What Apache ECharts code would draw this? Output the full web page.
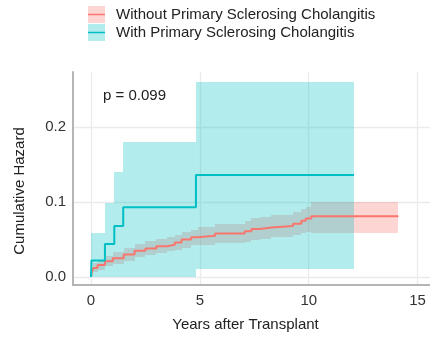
<!DOCTYPE html>
<html><head><meta charset="utf-8">
<script src="https://cdn.jsdelivr.net/npm/echarts@6/dist/echarts.min.js"></script>
<style>html,body{margin:0;padding:0;background:#fff}#c{width:430px;height:341px}</style>
</head><body><div id="c"></div>
<script>
const groupNames = ['Without Primary Sclerosing Cholangitis', 'With Primary Sclerosing Cholangitis'];
const xTicks = [0, 5, 10, 15];
const yTicks = [0, 0.1, 0.2];
const pText = 'p = 0.099';
const xTitle = 'Years after Transplant';
const yTitle = 'Cumulative Hazard';

// Without PSC (step function: value holds from time onward)
const noTime = [0, 0.02, 0.1, 0.3, 0.64, 1.0, 1.5, 2.0, 2.5, 3.0, 3.5, 3.85, 4.16, 4.6, 4.9, 5.7, 7.06, 7.37, 7.75, 8.29, 9.28, 9.66, 9.86, 10.12, 14.12];
const noHaz  = [0, 0.005, 0.012, 0.016, 0.021, 0.025, 0.030, 0.035, 0.038, 0.041, 0.043, 0.046, 0.050, 0.053, 0.055, 0.058, 0.061, 0.064, 0.066, 0.068, 0.071, 0.075, 0.078, 0.081, 0.081];
const noLo   = [0, 0.001, 0.006, 0.009, 0.014, 0.017, 0.021, 0.026, 0.029, 0.032, 0.034, 0.036, 0.039, 0.042, 0.043, 0.045, 0.047, 0.049, 0.051, 0.053, 0.056, 0.058, 0.060, 0.059, 0.059];
const noHi   = [0, 0.010, 0.018, 0.023, 0.028, 0.033, 0.039, 0.044, 0.048, 0.051, 0.053, 0.056, 0.060, 0.063, 0.066, 0.070, 0.074, 0.078, 0.080, 0.082, 0.086, 0.090, 0.093, 0.1004, 0.1004];

// With PSC
const psTime = [0, 0.02, 0.64, 1.07, 1.48, 4.82, 12.08];
const psHaz  = [0, 0.022, 0.044, 0.068, 0.093, 0.136, 0.136];
const psLo   = [0, 0, 0, 0, 0, 0.0107, 0.0107];
const psHi   = [0, 0.059, 0.099, 0.140, 0.180, 0.260, 0.260];

const RED = '#F8766D', TEAL = '#00BFC4';
function zip(xs, ys) { return xs.map((x, i) => [x, ys[i]]); }
// band segments: [x start, x end, lower, upper]
function segs(xs, lo, hi) {
  const out = [];
  for (let i = 0; i < xs.length - 1; i++) out.push([xs[i], xs[i + 1], lo[i], hi[i]]);
  return out;
}
function keyIcon(c) {
  const svg = "<svg xmlns='http://www.w3.org/2000/svg' width='17' height='17'><rect width='17' height='17' fill='" + c + "' fill-opacity='0.3'/><line x1='0' y1='8.5' x2='17' y2='8.5' stroke='" + c + "' stroke-width='1.5'/></svg>";
  return 'image://data:image/svg+xml;charset=utf-8,' + encodeURIComponent(svg);
}
function band(name, xs, lo, hi, color) {
  return {
    name, type: 'custom', silent: true, clip: true,
    data: segs(xs, lo, hi),
    encode: { x: [0, 1], y: [2, 3] },
    renderItem: function (params, api) {
      const p0 = api.coord([api.value(0), api.value(3)]);
      const p1 = api.coord([api.value(1), api.value(2)]);
      const x0 = Math.round(p0[0]), x1 = Math.round(p1[0]);
      const y0 = Math.round(p0[1]), y1 = Math.round(p1[1]);
      return { type: 'rect', shape: { x: x0, y: y0, width: x1 - x0, height: y1 - y0 },
        style: { fill: color, opacity: 0.3 } };
    }
  };
}
function curve(name, xs, ys, color) {
  return { name, type: 'line', step: 'end', data: zip(xs, ys), symbol: 'none', silent: true,
    lineStyle: { width: 2, color }, itemStyle: { color } };
}

const chart = echarts.init(document.getElementById('c'), null, { renderer: 'canvas' });
chart.setOption({
  animation: false,
  backgroundColor: '#fff',
  textStyle: { fontFamily: 'Liberation Sans, Arial, sans-serif' },
  title: { text: pText, left: 103, top: 88, padding: 0,
    textStyle: { fontSize: 15, fontWeight: 'normal', color: '#222' } },
  legend: {
    orient: 'vertical', left: 88, top: 6, padding: 0, itemWidth: 17, itemHeight: 17, itemGap: 1,
    selectedMode: false,
    textStyle: { fontSize: 15, color: '#222', padding: [0, 0, 0, 6] },
    data: [
      { name: groupNames[0], icon: keyIcon(RED) },
      { name: groupNames[1], icon: keyIcon(TEAL) }
    ]
  },
  grid: { left: 73, right: 0, top: 72, bottom: 56, containLabel: false, outerBoundsMode: 'none' },
  xAxis: {
    type: 'value', min: -0.827, max: 15.57,
    name: xTitle, nameLocation: 'middle', nameGap: 32,
    nameTextStyle: { fontSize: 15, color: '#222', padding: [0, 12, 0, 0] },
    axisLine: { show: true, onZero: false, lineStyle: { color: '#b5b5b5', width: 2 } },
    axisTick: { show: false, customValues: xTicks },
    axisLabel: { customValues: xTicks, fontSize: 15, color: '#333', margin: 8 },
    splitLine: { show: true, lineStyle: { color: '#ebebeb', width: 1.3 } }
  },
  yAxis: {
    type: 'value', min: -0.01067, max: 0.2733,
    name: yTitle, nameLocation: 'middle', nameGap: 46,
    nameTextStyle: { fontSize: 15, color: '#222', padding: [0, 25, 0, 0] },
    axisLine: { show: true, onZero: false, lineStyle: { color: '#b5b5b5', width: 2 } },
    axisTick: { show: false, customValues: yTicks },
    axisLabel: { customValues: yTicks, fontSize: 15, color: '#333', margin: 7, formatter: v => v.toFixed(1) },
    splitLine: { show: true, lineStyle: { color: '#ebebeb', width: 1.3 } }
  },
  series: [
    band(groupNames[0], noTime, noLo, noHi, RED),
    band(groupNames[1], psTime, psLo, psHi, TEAL),
    curve(groupNames[0], noTime, noHaz, RED),
    curve(groupNames[1], psTime, psHaz, TEAL)
  ]
});
</script></body></html>
